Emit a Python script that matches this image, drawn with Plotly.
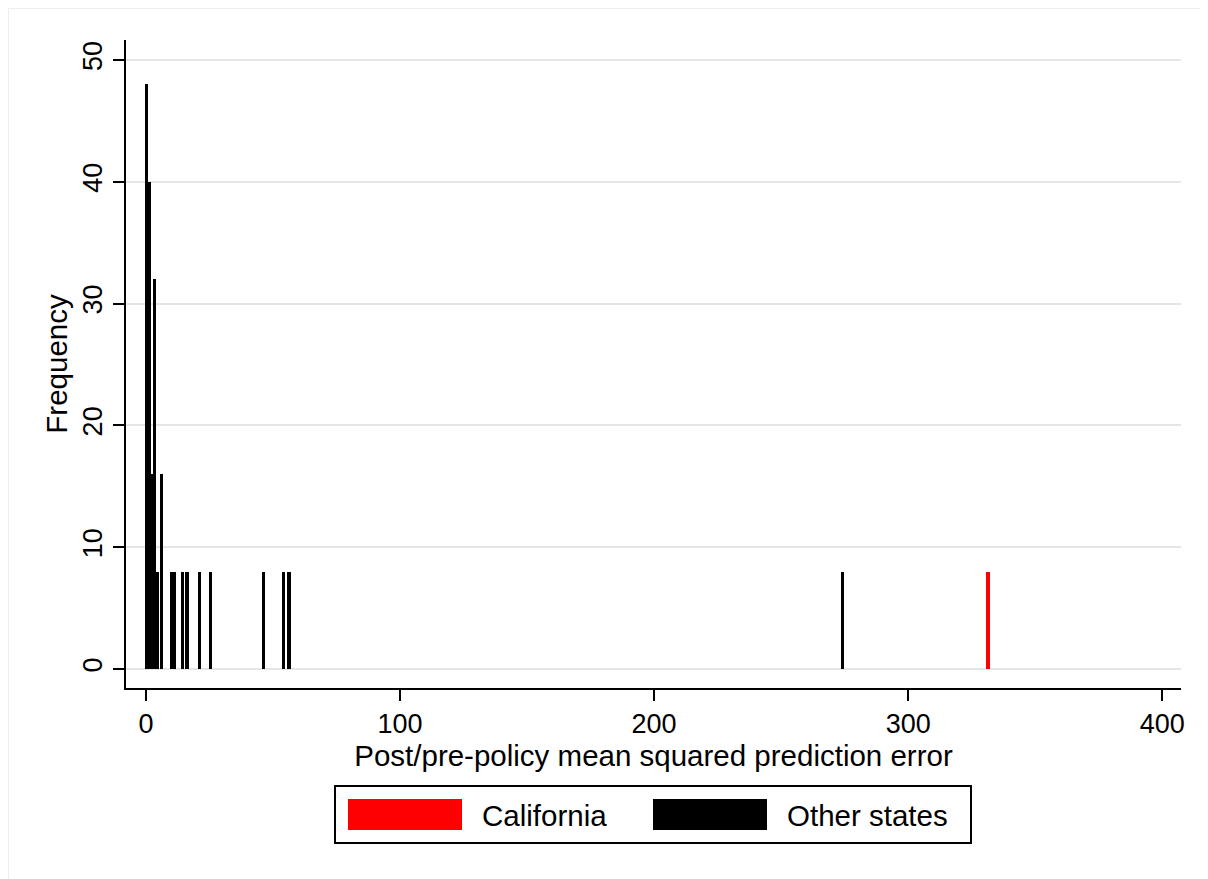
import plotly.graph_objects as go

# ---- data ----
other_x = [0.3, 1.4, 2.3, 3.3, 4.6, 6.2, 10.0, 11.2, 14.3, 16.2, 21.2, 25.3, 46.4, 54.2, 56.3, 274.1]
other_freq = [48, 40, 16, 32, 8, 16, 8, 8, 8, 8, 8, 8, 8, 8, 8, 8]
ca_x = [331.4]
ca_freq = [8]
x_ticks = [0, 100, 200, 300, 400]
y_ticks = [0, 10, 20, 30, 40, 50]
legend_labels = ["California", "Other states"]

BAR_W = 1.3
FONT = "Liberation Sans, Arial, sans-serif"
TICK_SIZE = 27
TITLE_SIZE = 29.5

fig = go.Figure()
fig.add_trace(go.Bar(x=other_x, y=other_freq, width=[BAR_W] * len(other_x),
                     marker=dict(color="black", line=dict(width=0)),
                     name=legend_labels[1], showlegend=False))
fig.add_trace(go.Bar(x=ca_x, y=ca_freq, width=[BAR_W] * len(ca_x),
                     marker=dict(color="#ff0000", line=dict(width=0)),
                     name=legend_labels[0], showlegend=False))

# the page adds an 8px body margin, so work in reference pixels minus 8
OFF = 8
W, H = 1208 - OFF, 879 - OFF
L, R, T, B = 126 - OFF, 1181 - OFF, 40 - OFF, 688 - OFF

def px(x):  # reference pixel -> paper x
    return (x - OFF - L) / (R - L)

def py(y):  # reference pixel -> paper y
    return (B - (y - OFF)) / (B - T)

shapes = []
annotations = []
# legend box
shapes.append(dict(type="rect", xref="paper", yref="paper",
                   x0=px(335), x1=px(971), y0=py(786), y1=py(843),
                   line=dict(color="black", width=2), fillcolor="white"))
shapes.append(dict(type="rect", xref="paper", yref="paper",
                   x0=px(348), x1=px(462), y0=py(799), y1=py(830),
                   line=dict(width=0), fillcolor="#ff0000"))
shapes.append(dict(type="rect", xref="paper", yref="paper",
                   x0=px(653), x1=px(767), y0=py(799), y1=py(830),
                   line=dict(width=0), fillcolor="black"))
annotations.append(dict(xref="paper", yref="paper", x=px(480), y=py(815),
                        xanchor="left", yanchor="middle", showarrow=False,
                        text=legend_labels[0], font=dict(family=FONT, size=TITLE_SIZE, color="black")))
annotations.append(dict(xref="paper", yref="paper", x=px(785), y=py(815),
                        xanchor="left", yanchor="middle", showarrow=False,
                        text=legend_labels[1], font=dict(family=FONT, size=TITLE_SIZE, color="black")))
# faint outer frame (top & left)
shapes.append(dict(type="line", xref="paper", yref="paper",
                   x0=px(8.5), x1=px(1208), y0=py(8.5), y1=py(8.5),
                   line=dict(color="#eeeeee", width=1)))
shapes.append(dict(type="line", xref="paper", yref="paper",
                   x0=px(8.5), x1=px(8.5), y0=py(8.5), y1=py(879),
                   line=dict(color="#eeeeee", width=1)))

# data-to-reference-pixel calibration
x0_px, x_scale = 145.9 - OFF, 2.541
y0_px, y_scale = 669 - OFF, 12.18

fig.update_layout(
    width=W, height=H,
    margin=dict(l=L, r=W - R, t=T, b=H - B),
    paper_bgcolor="white", plot_bgcolor="white",
    barmode="overlay", bargap=0,
    font=dict(family=FONT, size=TICK_SIZE, color="black"),
    shapes=shapes, annotations=annotations,
    xaxis=dict(
        range=[(L - x0_px) / x_scale, (R - x0_px) / x_scale],
        tickmode="array", tickvals=x_ticks, ticktext=[str(v) for v in x_ticks],
        showgrid=False, zeroline=False,
        showline=True, linecolor="black", linewidth=2,
        ticks="outside", ticklen=11, tickwidth=2, tickcolor="black",
        tickfont=dict(family=FONT, size=TICK_SIZE),
        title=dict(text="Post/pre-policy mean squared prediction error",
                   font=dict(family=FONT, size=TITLE_SIZE), standoff=3),
    ),
    yaxis=dict(
        range=[(y0_px - B) / y_scale, (y0_px - T) / y_scale],
        tickmode="array", tickvals=y_ticks, ticktext=[str(v) for v in y_ticks],
        tickangle=-90,
        showgrid=True, gridcolor="#e6e6e6", gridwidth=2,
        zeroline=False,
        showline=True, linecolor="black", linewidth=2,
        ticks="outside", ticklen=11, tickwidth=2, tickcolor="black",
        tickfont=dict(family=FONT, size=TICK_SIZE),
        title=dict(text="Frequency", font=dict(family=FONT, size=TITLE_SIZE), standoff=2),
    ),
)

fig.write_html("out.html")
